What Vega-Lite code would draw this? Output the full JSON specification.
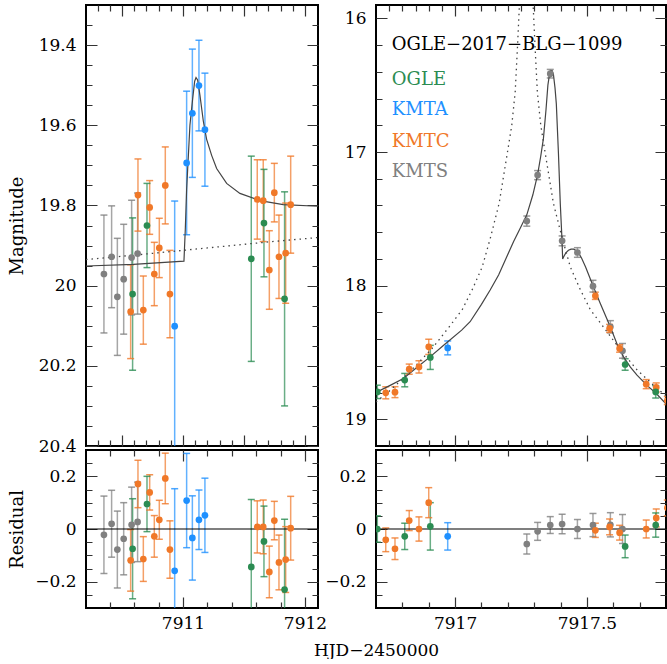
{
"$schema": "https://vega.github.io/schema/vega-lite/v6.json",
"padding": {"left": 7, "top": 4, "right": 0, "bottom": 0},
"config": {
  "font": "DejaVu Serif",
  "view": {"stroke": "black", "strokeWidth": 2},
  "axis": {"grid": false, "domain": false, "ticks": false, "zindex": 1, "labelFont": "DejaVu Serif", "labelFontSize": 17, "labelColor": "black", "titleFont": "DejaVu Serif", "titleFontSize": 18, "titleFontWeight": "normal", "titleColor": "black", "gridColor": "#333333", "gridWidth": 1.2, "gridOpacity": 1}
},
"datasets": {
  "pts": [
    {"p":"L","obs":"KMTS","t":7910.352,"mag":19.971,"lo":19.824,"hi":20.118,"res":-0.022,"rlo":-0.169,"rhi":0.125},
    {"p":"L","obs":"KMTS","t":7910.415,"mag":19.928,"lo":19.801,"hi":20.055,"res":0.020,"rlo":-0.107,"rhi":0.147},
    {"p":"L","obs":"KMTS","t":7910.462,"mag":20.028,"lo":19.882,"hi":20.174,"res":-0.078,"rlo":-0.224,"rhi":0.068},
    {"p":"L","obs":"KMTS","t":7910.514,"mag":19.984,"lo":19.847,"hi":20.121,"res":-0.037,"rlo":-0.174,"rhi":0.100},
    {"p":"L","obs":"KMTS","t":7910.579,"mag":19.930,"lo":19.787,"hi":20.073,"res":0.016,"rlo":-0.127,"rhi":0.159},
    {"p":"L","obs":"KMTS","t":7910.628,"mag":19.920,"lo":19.769,"hi":20.071,"res":0.027,"rlo":-0.124,"rhi":0.178},
    {"p":"L","obs":"KMTC","t":7910.571,"mag":20.065,"lo":19.948,"hi":20.182,"res":-0.119,"rlo":-0.236,"rhi":-0.002},
    {"p":"L","obs":"KMTC","t":7910.631,"mag":19.774,"lo":19.684,"hi":19.864,"res":0.171,"rlo":0.081,"rhi":0.261},
    {"p":"L","obs":"KMTC","t":7910.675,"mag":20.061,"lo":19.976,"hi":20.146,"res":-0.114,"rlo":-0.199,"rhi":-0.029},
    {"p":"L","obs":"KMTC","t":7910.727,"mag":19.805,"lo":19.738,"hi":19.872,"res":0.139,"rlo":0.072,"rhi":0.206},
    {"p":"L","obs":"KMTC","t":7910.765,"mag":19.971,"lo":19.892,"hi":20.050,"res":-0.028,"rlo":-0.107,"rhi":0.051},
    {"p":"L","obs":"KMTC","t":7910.806,"mag":19.906,"lo":19.832,"hi":19.980,"res":0.035,"rlo":-0.039,"rhi":0.109},
    {"p":"L","obs":"KMTC","t":7910.855,"mag":19.750,"lo":19.654,"hi":19.846,"res":0.192,"rlo":0.096,"rhi":0.288},
    {"p":"L","obs":"KMTC","t":7910.893,"mag":20.021,"lo":19.912,"hi":20.130,"res":-0.078,"rlo":-0.187,"rhi":0.031},
    {"p":"L","obs":"KMTC","t":7911.609,"mag":19.785,"lo":19.686,"hi":19.884,"res":0.008,"rlo":-0.091,"rhi":0.107},
    {"p":"L","obs":"KMTC","t":7911.658,"mag":19.788,"lo":19.686,"hi":19.890,"res":0.008,"rlo":-0.094,"rhi":0.110},
    {"p":"L","obs":"KMTC","t":7911.708,"mag":19.961,"lo":19.863,"hi":20.059,"res":-0.163,"rlo":-0.261,"rhi":-0.065},
    {"p":"L","obs":"KMTC","t":7911.749,"mag":19.768,"lo":19.695,"hi":19.841,"res":0.032,"rlo":-0.041,"rhi":0.105},
    {"p":"L","obs":"KMTC","t":7911.787,"mag":19.928,"lo":19.824,"hi":20.032,"res":-0.127,"rlo":-0.231,"rhi":-0.023},
    {"p":"L","obs":"KMTC","t":7911.842,"mag":19.919,"lo":19.794,"hi":20.044,"res":-0.116,"rlo":-0.241,"rhi":0.009},
    {"p":"L","obs":"KMTC","t":7911.883,"mag":19.798,"lo":19.677,"hi":19.919,"res":0.003,"rlo":-0.118,"rhi":0.124},
    {"p":"L","obs":"OGLE","t":7910.587,"mag":20.021,"lo":19.831,"hi":20.211,"res":-0.075,"rlo":-0.265,"rhi":0.115},
    {"p":"L","obs":"OGLE","t":7910.705,"mag":19.850,"lo":19.745,"hi":19.955,"res":0.095,"rlo":-0.010,"rhi":0.200},
    {"p":"L","obs":"OGLE","t":7911.560,"mag":19.933,"lo":19.677,"hi":20.189,"res":-0.144,"rlo":-0.400,"rhi":0.112},
    {"p":"L","obs":"OGLE","t":7911.664,"mag":19.844,"lo":19.710,"hi":19.978,"res":-0.047,"rlo":-0.181,"rhi":0.087},
    {"p":"L","obs":"OGLE","t":7911.833,"mag":20.033,"lo":19.766,"hi":20.300,"res":-0.230,"rlo":-0.497,"rhi":0.037},
    {"p":"L","obs":"KMTA","t":7910.932,"mag":20.101,"lo":19.789,"hi":20.413,"res":-0.159,"rlo":-0.471,"rhi":0.153},
    {"p":"L","obs":"KMTA","t":7911.030,"mag":19.694,"lo":19.515,"hi":19.873,"res":0.108,"rlo":-0.071,"rhi":0.287},
    {"p":"L","obs":"KMTA","t":7911.077,"mag":19.570,"lo":19.410,"hi":19.730,"res":-0.034,"rlo":-0.194,"rhi":0.126},
    {"p":"L","obs":"KMTA","t":7911.131,"mag":19.501,"lo":19.388,"hi":19.614,"res":0.035,"rlo":-0.078,"rhi":0.148},
    {"p":"L","obs":"KMTA","t":7911.180,"mag":19.611,"lo":19.470,"hi":19.752,"res":0.052,"rlo":-0.089,"rhi":0.193},
    {"p":"R","obs":"KMTS","t":7917.272,"mag":17.517,"lo":17.479,"hi":17.555,"res":-0.057,"rlo":-0.095,"rhi":-0.019},
    {"p":"R","obs":"KMTS","t":7917.313,"mag":17.173,"lo":17.139,"hi":17.207,"res":-0.009,"rlo":-0.043,"rhi":0.025},
    {"p":"R","obs":"KMTS","t":7917.361,"mag":16.414,"lo":16.382,"hi":16.446,"res":0.015,"rlo":-0.017,"rhi":0.047},
    {"p":"R","obs":"KMTS","t":7917.406,"mag":17.665,"lo":17.628,"hi":17.702,"res":0.019,"rlo":-0.018,"rhi":0.056},
    {"p":"R","obs":"KMTS","t":7917.464,"mag":17.752,"lo":17.716,"hi":17.788,"res":0.000,"rlo":-0.036,"rhi":0.036},
    {"p":"R","obs":"KMTS","t":7917.523,"mag":18.004,"lo":17.960,"hi":18.048,"res":0.015,"rlo":-0.029,"rhi":0.059},
    {"p":"R","obs":"KMTS","t":7917.589,"mag":18.308,"lo":18.262,"hi":18.354,"res":0.016,"rlo":-0.030,"rhi":0.062},
    {"p":"R","obs":"KMTS","t":7917.635,"mag":18.488,"lo":18.433,"hi":18.543,"res":0.000,"rlo":-0.055,"rhi":0.055},
    {"p":"R","obs":"KMTC","t":7916.737,"mag":18.802,"lo":18.757,"hi":18.847,"res":-0.041,"rlo":-0.086,"rhi":0.004},
    {"p":"R","obs":"KMTC","t":7916.772,"mag":18.797,"lo":18.756,"hi":18.838,"res":-0.075,"rlo":-0.116,"rhi":-0.034},
    {"p":"R","obs":"KMTC","t":7916.826,"mag":18.625,"lo":18.587,"hi":18.663,"res":0.032,"rlo":-0.006,"rhi":0.070},
    {"p":"R","obs":"KMTC","t":7916.863,"mag":18.608,"lo":18.562,"hi":18.654,"res":0.000,"rlo":-0.046,"rhi":0.046},
    {"p":"R","obs":"KMTC","t":7916.900,"mag":18.458,"lo":18.401,"hi":18.515,"res":0.100,"rlo":0.043,"rhi":0.157},
    {"p":"R","obs":"KMTC","t":7917.532,"mag":18.076,"lo":18.049,"hi":18.103,"res":-0.005,"rlo":-0.032,"rhi":0.022},
    {"p":"R","obs":"KMTC","t":7917.586,"mag":18.320,"lo":18.290,"hi":18.350,"res":0.008,"rlo":-0.022,"rhi":0.038},
    {"p":"R","obs":"KMTC","t":7917.624,"mag":18.470,"lo":18.442,"hi":18.498,"res":-0.014,"rlo":-0.042,"rhi":0.014},
    {"p":"R","obs":"KMTC","t":7917.725,"mag":18.737,"lo":18.703,"hi":18.771,"res":0.000,"rlo":-0.034,"rhi":0.034},
    {"p":"R","obs":"KMTC","t":7917.763,"mag":18.762,"lo":18.728,"hi":18.796,"res":0.042,"rlo":0.008,"rhi":0.076},
    {"p":"R","obs":"KMTC","t":7917.805,"mag":18.860,"lo":18.830,"hi":18.890,"res":0.080,"rlo":0.050,"rhi":0.110},
    {"p":"R","obs":"OGLE","t":7916.705,"mag":18.795,"lo":18.745,"hi":18.845,"res":0.000,"rlo":-0.050,"rhi":0.050},
    {"p":"R","obs":"OGLE","t":7916.809,"mag":18.707,"lo":18.657,"hi":18.757,"res":-0.028,"rlo":-0.078,"rhi":0.022},
    {"p":"R","obs":"OGLE","t":7916.906,"mag":18.537,"lo":18.447,"hi":18.627,"res":0.010,"rlo":-0.080,"rhi":0.100},
    {"p":"R","obs":"OGLE","t":7917.645,"mag":18.590,"lo":18.547,"hi":18.633,"res":-0.066,"rlo":-0.109,"rhi":-0.023},
    {"p":"R","obs":"OGLE","t":7917.761,"mag":18.795,"lo":18.749,"hi":18.841,"res":0.015,"rlo":-0.031,"rhi":0.061},
    {"p":"R","obs":"KMTA","t":7916.972,"mag":18.466,"lo":18.414,"hi":18.518,"res":-0.028,"rlo":-0.080,"rhi":0.024}
  ],
  "model": [
    {"p":"L","k":"b","t":7910.205,"mag":19.951},
    {"p":"L","k":"b","t":7910.593,"mag":19.947},
    {"p":"L","k":"b","t":7911.008,"mag":19.939},
    {"p":"L","k":"b","t":7911.019,"mag":19.860},
    {"p":"L","k":"b","t":7911.030,"mag":19.760},
    {"p":"L","k":"b","t":7911.057,"mag":19.600},
    {"p":"L","k":"b","t":7911.079,"mag":19.535},
    {"p":"L","k":"b","t":7911.096,"mag":19.490},
    {"p":"L","k":"b","t":7911.107,"mag":19.481},
    {"p":"L","k":"b","t":7911.120,"mag":19.487},
    {"p":"L","k":"b","t":7911.139,"mag":19.525},
    {"p":"L","k":"b","t":7911.167,"mag":19.590},
    {"p":"L","k":"b","t":7911.194,"mag":19.635},
    {"p":"L","k":"b","t":7911.235,"mag":19.675},
    {"p":"L","k":"b","t":7911.276,"mag":19.708},
    {"p":"L","k":"b","t":7911.358,"mag":19.745},
    {"p":"L","k":"b","t":7911.467,"mag":19.770},
    {"p":"L","k":"b","t":7911.631,"mag":19.788},
    {"p":"L","k":"b","t":7911.822,"mag":19.798},
    {"p":"L","k":"b","t":7912.107,"mag":19.802},
    {"p":"L","k":"s","t":7910.205,"mag":19.935},
    {"p":"L","k":"s","t":7910.700,"mag":19.921},
    {"p":"L","k":"s","t":7911.200,"mag":19.906},
    {"p":"L","k":"s","t":7911.700,"mag":19.891},
    {"p":"L","k":"s","t":7912.107,"mag":19.880},
    {"p":"R","k":"b","t":7916.700,"mag":18.800},
    {"p":"R","k":"b","t":7916.750,"mag":18.750},
    {"p":"R","k":"b","t":7916.804,"mag":18.695},
    {"p":"R","k":"b","t":7916.850,"mag":18.620},
    {"p":"R","k":"b","t":7916.905,"mag":18.533},
    {"p":"R","k":"b","t":7916.960,"mag":18.440},
    {"p":"R","k":"b","t":7917.025,"mag":18.333},
    {"p":"R","k":"b","t":7917.057,"mag":18.270},
    {"p":"R","k":"b","t":7917.100,"mag":18.140},
    {"p":"R","k":"b","t":7917.133,"mag":18.033},
    {"p":"R","k":"b","t":7917.165,"mag":17.920},
    {"p":"R","k":"b","t":7917.196,"mag":17.784},
    {"p":"R","k":"b","t":7917.222,"mag":17.670},
    {"p":"R","k":"b","t":7917.247,"mag":17.570},
    {"p":"R","k":"b","t":7917.272,"mag":17.470},
    {"p":"R","k":"b","t":7917.295,"mag":17.320},
    {"p":"R","k":"b","t":7917.313,"mag":17.170},
    {"p":"R","k":"b","t":7917.325,"mag":17.030},
    {"p":"R","k":"b","t":7917.335,"mag":16.900},
    {"p":"R","k":"b","t":7917.345,"mag":16.680},
    {"p":"R","k":"b","t":7917.352,"mag":16.500},
    {"p":"R","k":"b","t":7917.358,"mag":16.420},
    {"p":"R","k":"b","t":7917.363,"mag":16.390},
    {"p":"R","k":"b","t":7917.368,"mag":16.390},
    {"p":"R","k":"b","t":7917.373,"mag":16.420},
    {"p":"R","k":"b","t":7917.379,"mag":16.520},
    {"p":"R","k":"b","t":7917.384,"mag":16.640},
    {"p":"R","k":"b","t":7917.392,"mag":17.010},
    {"p":"R","k":"b","t":7917.399,"mag":17.385},
    {"p":"R","k":"b","t":7917.405,"mag":17.635},
    {"p":"R","k":"b","t":7917.408,"mag":17.800},
    {"p":"R","k":"b","t":7917.413,"mag":17.780},
    {"p":"R","k":"b","t":7917.420,"mag":17.755},
    {"p":"R","k":"b","t":7917.430,"mag":17.735},
    {"p":"R","k":"b","t":7917.440,"mag":17.727},
    {"p":"R","k":"b","t":7917.450,"mag":17.727},
    {"p":"R","k":"b","t":7917.460,"mag":17.738},
    {"p":"R","k":"b","t":7917.470,"mag":17.760},
    {"p":"R","k":"b","t":7917.480,"mag":17.795},
    {"p":"R","k":"b","t":7917.495,"mag":17.860},
    {"p":"R","k":"b","t":7917.510,"mag":17.935},
    {"p":"R","k":"b","t":7917.523,"mag":18.000},
    {"p":"R","k":"b","t":7917.550,"mag":18.130},
    {"p":"R","k":"b","t":7917.589,"mag":18.310},
    {"p":"R","k":"b","t":7917.615,"mag":18.440},
    {"p":"R","k":"b","t":7917.639,"mag":18.533},
    {"p":"R","k":"b","t":7917.665,"mag":18.610},
    {"p":"R","k":"b","t":7917.690,"mag":18.670},
    {"p":"R","k":"b","t":7917.730,"mag":18.750},
    {"p":"R","k":"b","t":7917.763,"mag":18.807},
    {"p":"R","k":"b","t":7917.804,"mag":18.894},
    {"p":"R","k":"s","t":7916.700,"mag":18.870},
    {"p":"R","k":"s","t":7916.750,"mag":18.790},
    {"p":"R","k":"s","t":7916.800,"mag":18.700},
    {"p":"R","k":"s","t":7916.850,"mag":18.600},
    {"p":"R","k":"s","t":7916.913,"mag":18.470},
    {"p":"R","k":"s","t":7916.977,"mag":18.310},
    {"p":"R","k":"s","t":7917.027,"mag":18.180},
    {"p":"R","k":"s","t":7917.065,"mag":18.030},
    {"p":"R","k":"s","t":7917.103,"mag":17.860},
    {"p":"R","k":"s","t":7917.135,"mag":17.635},
    {"p":"R","k":"s","t":7917.167,"mag":17.385},
    {"p":"R","k":"s","t":7917.198,"mag":17.010},
    {"p":"R","k":"s","t":7917.215,"mag":16.800},
    {"p":"R","k":"s","t":7917.228,"mag":16.550},
    {"p":"R","k":"s","t":7917.237,"mag":16.200},
    {"p":"R","k":"s","t":7917.244,"mag":15.900},
    {"p":"R","k":"s","t":7917.250,"mag":15.700},
    {"p":"R","k":"s","t":7917.290,"mag":15.700},
    {"p":"R","k":"s","t":7917.296,"mag":15.900},
    {"p":"R","k":"s","t":7917.303,"mag":16.200},
    {"p":"R","k":"s","t":7917.312,"mag":16.550},
    {"p":"R","k":"s","t":7917.325,"mag":16.800},
    {"p":"R","k":"s","t":7917.342,"mag":17.010},
    {"p":"R","k":"s","t":7917.373,"mag":17.385},
    {"p":"R","k":"s","t":7917.405,"mag":17.635},
    {"p":"R","k":"s","t":7917.437,"mag":17.860},
    {"p":"R","k":"s","t":7917.475,"mag":18.030},
    {"p":"R","k":"s","t":7917.513,"mag":18.180},
    {"p":"R","k":"s","t":7917.563,"mag":18.310},
    {"p":"R","k":"s","t":7917.627,"mag":18.480},
    {"p":"R","k":"s","t":7917.690,"mag":18.630},
    {"p":"R","k":"s","t":7917.766,"mag":18.770},
    {"p":"R","k":"s","t":7917.804,"mag":18.830}
  ],
  "labels": [
    {"txt":"OGLE−2017−BLG−1099","obs":"label","t":7916.76,"mag":16.237},
    {"txt":"OGLE","obs":"OGLE","t":7916.76,"mag":16.499},
    {"txt":"KMTA","obs":"KMTA","t":7916.76,"mag":16.724},
    {"txt":"KMTC","obs":"KMTC","t":7916.76,"mag":16.961},
    {"txt":"KMTS","obs":"KMTS","t":7916.76,"mag":17.186}
  ]
},
"columns": 2,
"spacing": {"row": 4, "column": 58},
"bounds": "flush",
"concat": [
  {
    "width": 232, "height": 441,
    "resolve": {"axis": {"x": "independent", "y": "independent"}},
    "layer": [
      {"data": {"name": "pts"}, "transform": [{"filter": "datum.p == 'L'"}],
       "mark": {"type": "rule", "strokeWidth": 1.5, "opacity": 0.7, "clip": true},
       "encoding": {
         "x": {"field": "t", "type": "quantitative", "scale": {"domain": [7910.205, 7912.107], "nice": false, "zero": false},
               "axis": {"orient": "bottom", "values": [7910.5, 7911, 7911.5, 7912], "labels": false, "grid": true, "gridDash": [11, 419, 11, 2000], "title": null}},
         "y": {"field": "lo", "type": "quantitative", "scale": {"domain": [19.3, 20.4], "reverse": true, "nice": false, "zero": false},
               "axis": {"orient": "left", "values": [19.4, 19.6, 19.8, 20, 20.2, 20.4], "grid": true, "gridDash": [11, 210, 11, 2000], "labelPadding": 10, "format": "~g", "title": "Magnitude", "titleX": -68.5, "titleBaseline": "middle"}},
         "y2": {"field": "hi"},
         "color": {"field": "obs", "type": "nominal", "scale": {"domain": ["OGLE","KMTA","KMTC","KMTS","label"], "range": ["#2b8c52","#1e90ff","#f07828","#808080","#000000"]}, "legend": null}
       }},
      {"data": {"name": "pts"}, "transform": [{"filter": "datum.p == 'L'"}],
       "mark": {"type": "tick", "orient": "horizontal", "size": 7, "thickness": 1.5, "opacity": 0.8, "clip": true},
       "encoding": {
         "x": {"field": "t", "type": "quantitative", "axis": {"orient": "bottom", "values": [7910.3,7910.4,7910.6,7910.7,7910.8,7910.9,7911.1,7911.2,7911.3,7911.4,7911.6,7911.7,7911.8,7911.9], "labels": false, "grid": true, "gridDash": [6, 429, 6, 2000], "title": null}},
         "y": {"field": "lo", "type": "quantitative", "axis": {"orient": "left", "values": [19.35,19.45,19.5,19.55,19.65,19.7,19.75,19.85,19.9,19.95,20.05,20.1,20.15,20.25,20.3,20.35], "labels": false, "grid": true, "gridDash": [6, 220, 6, 2000], "title": null}},
         "color": {"field": "obs", "type": "nominal", "legend": null}
       }},
      {"data": {"name": "pts"}, "transform": [{"filter": "datum.p == 'L'"}],
       "mark": {"type": "tick", "orient": "horizontal", "size": 7, "thickness": 1.5, "opacity": 0.8, "clip": true},
       "encoding": {
         "x": {"field": "t", "type": "quantitative", "axis": null},
         "y": {"field": "hi", "type": "quantitative", "axis": null},
         "color": {"field": "obs", "type": "nominal", "legend": null}
       }},
      {"data": {"name": "model"}, "transform": [{"filter": "datum.p == 'L' && datum.k == 'b'"}],
       "mark": {"type": "line", "color": "#444444", "strokeWidth": 1.2, "clip": true},
       "encoding": {
         "x": {"field": "t", "type": "quantitative", "axis": null},
         "y": {"field": "mag", "type": "quantitative", "axis": null}
       }},
      {"data": {"name": "model"}, "transform": [{"filter": "datum.p == 'L' && datum.k == 's'"}],
       "mark": {"type": "line", "color": "#444444", "strokeWidth": 1.3, "strokeDash": [1.5, 4], "clip": true},
       "encoding": {
         "x": {"field": "t", "type": "quantitative", "axis": null},
         "y": {"field": "mag", "type": "quantitative", "axis": null}
       }},
      {"data": {"name": "pts"}, "transform": [{"filter": "datum.p == 'L'"}],
       "mark": {"type": "point", "filled": true, "shape": "circle", "size": 45, "opacity": 1, "clip": true},
       "encoding": {
         "x": {"field": "t", "type": "quantitative", "axis": null},
         "y": {"field": "mag", "type": "quantitative", "axis": null},
         "color": {"field": "obs", "type": "nominal", "legend": null}
       }}
    ]
  },
  {
    "width": 290, "height": 441,
    "resolve": {"axis": {"x": "independent", "y": "independent"}},
    "layer": [
      {"data": {"name": "pts"}, "transform": [{"filter": "datum.p == 'R'"}],
       "mark": {"type": "rule", "strokeWidth": 1.5, "opacity": 0.7, "clip": true},
       "encoding": {
         "x": {"field": "t", "type": "quantitative", "scale": {"domain": [7916.7, 7917.8], "nice": false, "zero": false},
               "axis": {"orient": "bottom", "values": [7917, 7917.5], "labels": false, "grid": true, "gridDash": [11, 419, 11, 2000], "title": null}},
         "y": {"field": "lo", "type": "quantitative", "scale": {"domain": [15.9, 19.2], "reverse": true, "nice": false, "zero": false},
               "axis": {"orient": "left", "values": [16, 17, 18, 19], "grid": true, "gridDash": [11, 268, 11, 2000], "labelPadding": 10, "format": "~g", "title": null}},
         "y2": {"field": "hi"},
         "color": {"field": "obs", "type": "nominal", "scale": {"domain": ["OGLE","KMTA","KMTC","KMTS","label"], "range": ["#2b8c52","#1e90ff","#f07828","#808080","#000000"]}, "legend": null}
       }},
      {"data": {"name": "pts"}, "transform": [{"filter": "datum.p == 'R'"}],
       "mark": {"type": "tick", "orient": "horizontal", "size": 7, "thickness": 1.5, "opacity": 0.8, "clip": true},
       "encoding": {
         "x": {"field": "t", "type": "quantitative", "axis": {"orient": "bottom", "values": [7916.75,7916.8,7916.85,7916.9,7916.95,7917.05,7917.1,7917.15,7917.2,7917.25,7917.3,7917.35,7917.4,7917.45,7917.55,7917.6,7917.65,7917.7,7917.75], "labels": false, "grid": true, "gridDash": [6, 429, 6, 2000], "title": null}},
         "y": {"field": "lo", "type": "quantitative", "axis": {"orient": "left", "values": [16.2,16.4,16.6,16.8,17.2,17.4,17.6,17.8,18.2,18.4,18.6,18.8], "labels": false, "grid": true, "gridDash": [6, 278, 6, 2000], "title": null}},
         "color": {"field": "obs", "type": "nominal", "legend": null}
       }},
      {"data": {"name": "pts"}, "transform": [{"filter": "datum.p == 'R'"}],
       "mark": {"type": "tick", "orient": "horizontal", "size": 7, "thickness": 1.5, "opacity": 0.8, "clip": true},
       "encoding": {
         "x": {"field": "t", "type": "quantitative", "axis": null},
         "y": {"field": "hi", "type": "quantitative", "axis": null},
         "color": {"field": "obs", "type": "nominal", "legend": null}
       }},
      {"data": {"name": "model"}, "transform": [{"filter": "datum.p == 'R' && datum.k == 'b'"}],
       "mark": {"type": "line", "color": "#444444", "strokeWidth": 1.2, "clip": true},
       "encoding": {
         "x": {"field": "t", "type": "quantitative", "axis": null},
         "y": {"field": "mag", "type": "quantitative", "axis": null}
       }},
      {"data": {"name": "model"}, "transform": [{"filter": "datum.p == 'R' && datum.k == 's'"}],
       "mark": {"type": "line", "color": "#444444", "strokeWidth": 1.3, "strokeDash": [1.5, 4], "clip": true},
       "encoding": {
         "x": {"field": "t", "type": "quantitative", "axis": null},
         "y": {"field": "mag", "type": "quantitative", "axis": null}
       }},
      {"data": {"name": "pts"}, "transform": [{"filter": "datum.p == 'R'"}],
       "mark": {"type": "point", "filled": true, "shape": "circle", "size": 45, "opacity": 1, "clip": true},
       "encoding": {
         "x": {"field": "t", "type": "quantitative", "axis": null},
         "y": {"field": "mag", "type": "quantitative", "axis": null},
         "color": {"field": "obs", "type": "nominal", "legend": null}
       }},
      {"data": {"name": "labels"},
       "mark": {"type": "text", "align": "left", "baseline": "alphabetic", "font": "DejaVu Serif", "fontSize": 18},
       "encoding": {
         "x": {"field": "t", "type": "quantitative", "axis": null},
         "y": {"field": "mag", "type": "quantitative", "axis": null},
         "text": {"field": "txt"},
         "color": {"field": "obs", "type": "nominal", "legend": null}
       }}
    ]
  },
  {
    "width": 232, "height": 158,
    "resolve": {"axis": {"x": "independent", "y": "independent"}},
    "layer": [
      {"data": {"name": "pts"}, "transform": [{"filter": "datum.p == 'L'"}],
       "mark": {"type": "rule", "strokeWidth": 1.5, "opacity": 0.7, "clip": true},
       "encoding": {
         "x": {"field": "t", "type": "quantitative", "scale": {"domain": [7910.205, 7912.107], "nice": false, "zero": false},
               "axis": {"orient": "bottom", "values": [7911, 7912], "grid": true, "gridDash": [11, 136, 11, 2000], "labelPadding": 7, "format": "~g", "title": "HJD−2450000", "titleFontSize": 17, "titleX": 290, "titleY": 42, "titleBaseline": "middle"}},
         "y": {"field": "rlo", "type": "quantitative", "scale": {"domain": [-0.3, 0.3], "nice": false, "zero": false},
               "axis": {"orient": "left", "values": [-0.2, 0, 0.2], "grid": true, "gridDash": [11, 210, 11, 2000], "labelPadding": 10, "format": "~g", "title": "Residual", "titleX": -68.5, "titleBaseline": "middle"}},
         "y2": {"field": "rhi"},
         "color": {"field": "obs", "type": "nominal", "scale": {"domain": ["OGLE","KMTA","KMTC","KMTS","label"], "range": ["#2b8c52","#1e90ff","#f07828","#808080","#000000"]}, "legend": null}
       }},
      {"data": {"name": "pts"}, "transform": [{"filter": "datum.p == 'L'"}],
       "mark": {"type": "tick", "orient": "horizontal", "size": 7, "thickness": 1.5, "opacity": 0.8, "clip": true},
       "encoding": {
         "x": {"field": "t", "type": "quantitative", "axis": {"orient": "bottom", "values": [7910.4,7910.6,7910.8,7911.2,7911.4,7911.6,7911.8], "labels": false, "grid": true, "gridDash": [6, 146, 6, 2000], "title": null}},
         "y": {"field": "rlo", "type": "quantitative", "axis": {"orient": "left", "values": [-0.25,-0.15,-0.1,-0.05,0.05,0.1,0.15,0.25], "labels": false, "grid": true, "gridDash": [6, 220, 6, 2000], "title": null}},
         "color": {"field": "obs", "type": "nominal", "legend": null}
       }},
      {"data": {"name": "pts"}, "transform": [{"filter": "datum.p == 'L'"}],
       "mark": {"type": "tick", "orient": "horizontal", "size": 7, "thickness": 1.5, "opacity": 0.8, "clip": true},
       "encoding": {
         "x": {"field": "t", "type": "quantitative", "axis": null},
         "y": {"field": "rhi", "type": "quantitative", "axis": null},
         "color": {"field": "obs", "type": "nominal", "legend": null}
       }},
      {"data": {"values": [{}]},
       "mark": {"type": "rule", "color": "black", "strokeWidth": 1.2},
       "encoding": {
         "x": {"datum": 7910.205, "type": "quantitative", "axis": null},
         "x2": {"datum": 7912.107},
         "y": {"datum": 0, "type": "quantitative", "axis": null}
       }},
      {"data": {"name": "pts"}, "transform": [{"filter": "datum.p == 'L'"}],
       "mark": {"type": "point", "filled": true, "shape": "circle", "size": 45, "opacity": 1, "clip": true},
       "encoding": {
         "x": {"field": "t", "type": "quantitative", "axis": null},
         "y": {"field": "res", "type": "quantitative", "axis": null},
         "color": {"field": "obs", "type": "nominal", "legend": null}
       }}
    ]
  },
  {
    "width": 290, "height": 158,
    "resolve": {"axis": {"x": "independent", "y": "independent"}},
    "layer": [
      {"data": {"name": "pts"}, "transform": [{"filter": "datum.p == 'R'"}],
       "mark": {"type": "rule", "strokeWidth": 1.5, "opacity": 0.7, "clip": true},
       "encoding": {
         "x": {"field": "t", "type": "quantitative", "scale": {"domain": [7916.7, 7917.8], "nice": false, "zero": false},
               "axis": {"orient": "bottom", "values": [7917, 7917.5], "grid": true, "gridDash": [11, 136, 11, 2000], "labelPadding": 7, "format": "~g", "title": null}},
         "y": {"field": "rlo", "type": "quantitative", "scale": {"domain": [-0.3, 0.3], "nice": false, "zero": false},
               "axis": {"orient": "left", "values": [-0.2, 0, 0.2], "grid": true, "gridDash": [11, 268, 11, 2000], "labelPadding": 10, "format": "~g", "title": null}},
         "y2": {"field": "rhi"},
         "color": {"field": "obs", "type": "nominal", "scale": {"domain": ["OGLE","KMTA","KMTC","KMTS","label"], "range": ["#2b8c52","#1e90ff","#f07828","#808080","#000000"]}, "legend": null}
       }},
      {"data": {"name": "pts"}, "transform": [{"filter": "datum.p == 'R'"}],
       "mark": {"type": "tick", "orient": "horizontal", "size": 7, "thickness": 1.5, "opacity": 0.8, "clip": true},
       "encoding": {
         "x": {"field": "t", "type": "quantitative", "axis": {"orient": "bottom", "values": [7916.8,7916.9,7917.1,7917.2,7917.3,7917.4,7917.6,7917.7], "labels": false, "grid": true, "gridDash": [6, 146, 6, 2000], "title": null}},
         "y": {"field": "rlo", "type": "quantitative", "axis": {"orient": "left", "values": [-0.25,-0.15,-0.1,-0.05,0.05,0.1,0.15,0.25], "labels": false, "grid": true, "gridDash": [6, 278, 6, 2000], "title": null}},
         "color": {"field": "obs", "type": "nominal", "legend": null}
       }},
      {"data": {"name": "pts"}, "transform": [{"filter": "datum.p == 'R'"}],
       "mark": {"type": "tick", "orient": "horizontal", "size": 7, "thickness": 1.5, "opacity": 0.8, "clip": true},
       "encoding": {
         "x": {"field": "t", "type": "quantitative", "axis": null},
         "y": {"field": "rhi", "type": "quantitative", "axis": null},
         "color": {"field": "obs", "type": "nominal", "legend": null}
       }},
      {"data": {"values": [{}]},
       "mark": {"type": "rule", "color": "black", "strokeWidth": 1.2},
       "encoding": {
         "x": {"datum": 7916.7, "type": "quantitative", "axis": null},
         "x2": {"datum": 7917.8},
         "y": {"datum": 0, "type": "quantitative", "axis": null}
       }},
      {"data": {"name": "pts"}, "transform": [{"filter": "datum.p == 'R'"}],
       "mark": {"type": "point", "filled": true, "shape": "circle", "size": 45, "opacity": 1, "clip": true},
       "encoding": {
         "x": {"field": "t", "type": "quantitative", "axis": null},
         "y": {"field": "res", "type": "quantitative", "axis": null},
         "color": {"field": "obs", "type": "nominal", "legend": null}
       }}
    ]
  }
]
}
